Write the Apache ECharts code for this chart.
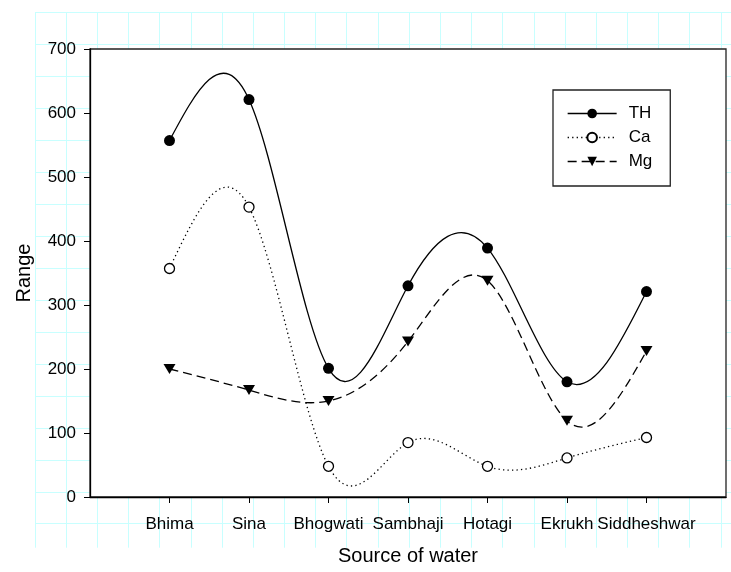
<!DOCTYPE html>
<html><head><meta charset="utf-8">
<script src="https://cdn.jsdelivr.net/npm/echarts@6/dist/echarts.min.js"></script>
<style>html,body{margin:0;padding:0;background:#fff}#c{width:731px;height:572px}</style>
</head><body><div id="c"></div>
<script>
const categories = ['Bhima', 'Sina', 'Bhogwati', 'Sambhaji', 'Hotagi', 'Ekrukh', 'Siddheshwar'];
const TH = [557, 621, 201, 330, 389, 180, 321];
const Ca = [357, 453, 48, 85, 48, 61, 93];
const Mg = [200, 167, 150, 243, 338, 119, 228];
const yMin = 0, yMax = 700, yStep = 100;

const FONT = 'Liberation Sans, Arial, sans-serif';
const catPos = categories.map((c, i) => i + 1);
const toPairs = arr => arr.map((v, i) => [catPos[i], v]);

// natural cubic spline through the points, expressed as Bezier segments (in data space)
function splineBeziers(xs, ys) {
  const n = ys.length, M = new Array(n).fill(0), m = n - 2, c = [], d = [];
  for (let k = 0; k < m; k++) {
    const i = k + 1;
    const h0 = xs[i] - xs[i - 1], h1 = xs[i + 1] - xs[i];
    const rhs = 6 * ((ys[i + 1] - ys[i]) / h1 - (ys[i] - ys[i - 1]) / h0);
    const a = h0, b = 2 * (h0 + h1), cc = h1;
    if (k === 0) { c[k] = cc / b; d[k] = rhs / b; }
    else { const den = b - a * c[k - 1]; c[k] = cc / den; d[k] = (rhs - a * d[k - 1]) / den; }
  }
  for (let k = m - 1; k >= 0; k--) M[k + 1] = d[k] - (k < m - 1 ? c[k] * M[k + 2] : 0);
  const segs = [];
  for (let i = 0; i < n - 1; i++) {
    const x0 = xs[i], x1 = xs[i + 1], y0 = ys[i], y1 = ys[i + 1], h = x1 - x0;
    const s0 = (y1 - y0) / h - h * (2 * M[i] + M[i + 1]) / 6;
    const s1 = (y1 - y0) / h + h * (M[i] + 2 * M[i + 1]) / 6;
    segs.push([[x0, y0], [x0 + h / 3, y0 + s0 * h / 3], [x1 - h / 3, y1 - s1 * h / 3], [x1, y1]]);
  }
  return segs;
}

function curveSeries(name, ys, dash) {
  const segs = splineBeziers(catPos, ys);
  return {
    type: 'custom', name: '_' + name, xAxisIndex: 0, yAxisIndex: 0, data: toPairs(ys),
    encode: {x: 0, y: 1}, z: 2, silent: true,
    renderItem: function (params, api) {
      if (params.dataIndex !== 0) return null;
      let p = api.coord(segs[0][0]);
      let path = 'M' + p[0] + ' ' + p[1];
      segs.forEach(s => {
        const a = api.coord(s[1]), b = api.coord(s[2]), e = api.coord(s[3]);
        path += ' C' + a[0] + ' ' + a[1] + ' ' + b[0] + ' ' + b[1] + ' ' + e[0] + ' ' + e[1];
      });
      return {type: 'path', shape: {pathData: path},
        style: {fill: 'none', stroke: '#000', lineWidth: 1.3, lineDash: dash}};
    }
  };
}

const chart = echarts.init(document.getElementById('c'), null, {renderer: 'canvas'});
chart.setOption({
  animation: false,
  backgroundColor: '#fff',
  textStyle: {fontFamily: FONT},
  grid: [
    {left: 90, right: 5, top: 49, bottom: 75, show: true, backgroundColor: '#fff',
     borderColor: '#222', borderWidth: 1.3, z: 1},
    {left: 35, top: 12.7, width: 710, height: 535, show: false, z: 0}
  ],
  xAxis: [
    {type: 'value', gridIndex: 0, min: 0, max: categories.length + 1, interval: 1, z: 3,
     axisLine: {lineStyle: {color: '#000', width: 1.3}},
     axisTick: {customValues: catPos, length: 6, lineStyle: {color: '#000', width: 1}},
     axisLabel: {customValues: catPos, formatter: v => categories[Math.round(v) - 1] || '',
                 margin: 19, fontSize: 17, color: '#000', fontFamily: FONT},
     splitLine: {show: false},
     name: 'Source of water', nameLocation: 'middle', nameGap: 49,
     nameTextStyle: {fontSize: 20, color: '#000', fontFamily: FONT}},
    {type: 'value', gridIndex: 1, min: 0, max: 710, interval: 31.8, z: 0,
     axisLine: {show: false}, axisTick: {show: false}, axisLabel: {show: false},
     splitLine: {show: true, lineStyle: {color: '#c8ffff', width: 1}}}
  ],
  yAxis: [
    {type: 'value', gridIndex: 0, min: yMin, max: yMax, interval: yStep, z: 3,
     axisLine: {show: true, lineStyle: {color: '#000', width: 1.3}},
     axisTick: {show: true, length: 6, lineStyle: {color: '#000', width: 1}},
     axisLabel: {margin: 14, fontSize: 17, color: '#000', fontFamily: FONT},
     splitLine: {show: false},
     name: 'Range', nameLocation: 'middle', nameGap: 56,
     nameTextStyle: {fontSize: 20, color: '#000', fontFamily: FONT}},
    {type: 'value', gridIndex: 1, inverse: true, min: 0, max: 535, interval: 31.94, z: 0,
     axisLine: {show: false}, axisTick: {show: false}, axisLabel: {show: false},
     splitLine: {show: true, showMaxLine: false, lineStyle: {color: '#c8ffff', width: 1}}}
  ],
  legend: {
    orient: 'vertical', left: 553, top: 90,
    data: [
      {name: 'TH', lineStyle: {opacity: 1, width: 1.3, color: '#000', type: 'solid'}},
      {name: 'Ca', lineStyle: {opacity: 1, width: 1.3, color: '#000', type: [1.3, 3.2]}},
      {name: 'Mg', lineStyle: {opacity: 1, width: 1.3, color: '#000', type: [9, 5]}}
    ],
    itemWidth: 49, itemHeight: 12, itemGap: 7, padding: [15, 18, 16, 14],
    borderColor: '#222', borderWidth: 1.3, backgroundColor: '#fff', z: 5,
    textStyle: {fontSize: 17, color: '#000', fontFamily: FONT, padding: [0, 0, 0, 7]}
  },
  series: [
    curveSeries('TH', TH, null),
    curveSeries('Ca', Ca, [1.3, 3.2]),
    curveSeries('Mg', Mg, [9, 5]),
    {name: 'TH', type: 'line', xAxisIndex: 0, yAxisIndex: 0, data: toPairs(TH),
     symbol: 'circle', symbolSize: 11, itemStyle: {color: '#000'},
     lineStyle: {color: '#000', width: 1.3, type: 'solid', opacity: 0}, z: 3},
    {name: 'Ca', type: 'line', xAxisIndex: 0, yAxisIndex: 0, data: toPairs(Ca),
     symbol: 'circle', symbolSize: 10, itemStyle: {color: '#fff', borderColor: '#000', borderWidth: 1.3},
     lineStyle: {color: '#000', width: 1.3, type: [1.3, 3.2], opacity: 0}, z: 3},
    {name: 'Mg', type: 'line', xAxisIndex: 0, yAxisIndex: 0, data: toPairs(Mg),
     symbol: 'triangle', symbolRotate: 180, symbolSize: [12, 10], itemStyle: {color: '#000'},
     lineStyle: {color: '#000', width: 1.3, type: [9, 5], opacity: 0}, z: 3}
  ]
});
</script></body></html>
